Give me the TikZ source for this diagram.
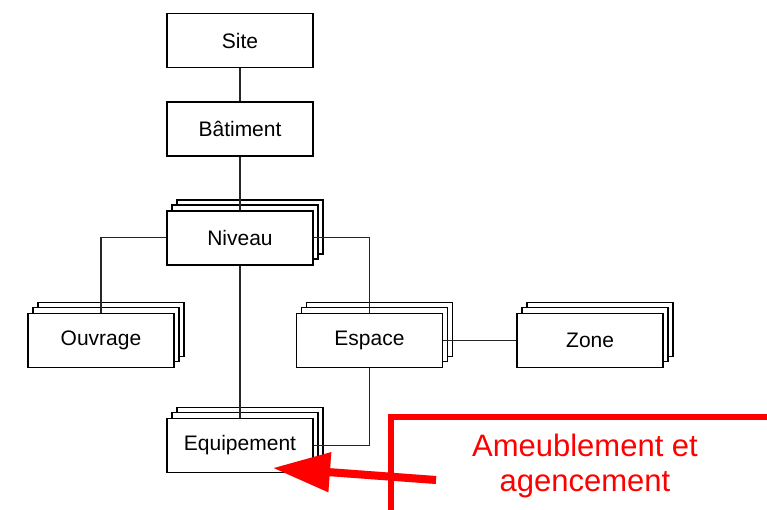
\documentclass[tikz,border=0pt]{standalone}
\usepackage{fontspec}
\setmainfont{Liberation Sans}
\usetikzlibrary{arrows.meta,positioning,shadows}
\definecolor{annot}{HTML}{FF0000}
\tikzset{
  box/.style       = {rectangle, draw=black, fill=white, line width=1.6pt,
                       minimum width=146pt, minimum height=54pt, inner sep=0pt,
                       font=\fontsize{21}{25}\selectfont},
  pile/.style      = {box,
                       copy shadow={shadow xshift=10pt, shadow yshift=11pt,
                                    draw=black, fill=white, line width=1.6pt},
                       copy shadow={shadow xshift=5pt, shadow yshift=6pt,
                                    draw=black, fill=white, line width=1.6pt}},
  link/.style      = {draw=black!85, line width=1.2pt},
  redframe/.style  = {draw=annot, line width=6pt},
  annotext/.style  = {font=\fontsize{31}{35}\selectfont, text=annot, align=center},
  pointer/.style   = {-{Triangle[length=57pt,width=38pt]}, draw=annot, fill=annot, line width=8pt},
  pointershade/.style = {pointer, draw=black, fill=black, opacity=0.18},
}

\begin{document}
\begin{tikzpicture}[x=1pt, y=-1pt]
\useasboundingbox (0,0) rectangle (767,509);

% Hierarchy
\node[box] (site) at (240,40.5) {Site};
\node[box, below=33pt of site]      (batiment) {Bâtiment};
\node[pile, below=53pt of batiment] (niveau)   {Niveau};
\node[pile, below=47pt of niveau, xshift=-139pt]  (ouvrage) {Ouvrage};
\node[pile, below=47pt of niveau, xshift=129.5pt] (espace)  {Espace};
\node[pile, right=73pt of espace]   (zone)     {Zone};
\node[pile, below=152pt of niveau]  (equip)    {Equipement};

% Links
\draw[link] (site) -- (batiment);
\draw[link] (batiment) -- (niveau);
\draw[link] (niveau.west) -| (ouvrage.north);
\draw[link] (niveau.east) -| (espace.north);
\draw[link] (niveau) -- (equip);
\draw[link] (espace) -- (zone);
\draw[link] (espace.south) |- (equip.east);

% Annotation
\coordinate (framebottom) at (391,515);
\coordinate (framecorner) at (391,417);
\coordinate (frameright)  at (775,417);
\draw[redframe] (framebottom) -- (framecorner) -- (frameright);
\node[annotext] (ameub) at (585,466) {Ameublement et\\agencement};
\coordinate (arrowtail) at (436,480);
\coordinate (arrowtip)  at (273,468);
\draw[pointershade, xshift=2.5pt, yshift=-2.5pt] (arrowtail) -- (arrowtip);
\draw[pointer] (arrowtail) -- (arrowtip);
\end{tikzpicture}
\end{document}
